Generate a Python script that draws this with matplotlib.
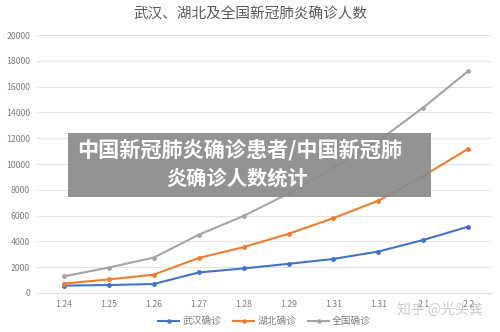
import matplotlib.pyplot as plt
from matplotlib.patches import Rectangle

plt.rcParams['font.family'] = ['Noto Sans CJK SC', 'DejaVu Sans']

dates = ['1.24', '1.25', '1.26', '1.27', '1.28', '1.29', '1.31', '1.31', '2.1', '2.2']
wuhan = [572, 618, 698, 1590, 1905, 2261, 2639, 3215, 4109, 5142]
hubei = [729, 1052, 1423, 2714, 3554, 4586, 5806, 7153, 9074, 11177]
china = [1287, 1975, 2744, 4515, 5974, 7711, 9692, 11791, 14380, 17205]
yticks = [0, 2000, 4000, 6000, 8000, 10000, 12000, 14000, 16000, 18000, 20000]

fig = plt.figure(figsize=(5, 3.32), dpi=100)
ax = fig.add_axes([0.074, 0.1175, 0.91, 0.777])

x = range(len(dates))
ax.plot(x, wuhan, color='#4472C4', lw=1.5, marker='o', ms=2.5, label='武汉确诊')
ax.plot(x, hubei, color='#ED7D31', lw=1.5, marker='o', ms=2.5, label='湖北确诊')
ax.plot(x, china, color='#A5A5A5', lw=1.5, marker='o', ms=2.5, label='全国确诊')

ax.set_xlim(-0.6, 9.53)
ax.set_ylim(0, 20000)
ax.set_yticks(yticks)
ax.set_xticks(list(x))
ax.set_xticklabels(dates)
ax.grid(axis='y', color='#e3e3e3', lw=0.8)
ax.set_axisbelow(True)
for s in ax.spines.values():
    s.set_visible(False)
ax.spines['bottom'].set_visible(True)
ax.spines['bottom'].set_color('#e3e3e3')
ax.tick_params(length=0, labelsize=6.3, colors='#7f7f7f', pad=5)

fig.text(0.5, 0.955, '武汉、湖北及全国新冠肺炎确诊人数', ha='center', va='center',
         fontsize=10.5, color='#595959')

ax.legend(loc='center', bbox_to_anchor=(0.5, -0.11), ncol=3, frameon=False,
          fontsize=7, labelcolor='#7f7f7f', handlelength=2.2, columnspacing=1.2,
          handletextpad=0.3, markerscale=0.9)

fig.patches.append(Rectangle((0.136, 0.4066), 0.726, 0.1928, transform=fig.transFigure,
                             facecolor='#8a8a8a', alpha=0.92, edgecolor='none', zorder=5))
fig.text(0.48, 0.55, '中国新冠肺炎确诊患者/中国新冠肺', ha='center', va='center',
         fontsize=15.2, fontweight='bold', color='white', zorder=6)
fig.text(0.475, 0.465, '炎确诊人数统计', ha='center', va='center',
         fontsize=14.6, fontweight='bold', color='white', zorder=6)

fig.text(0.88, 0.068, '知乎 @光头龚', ha='center', va='center', fontsize=10,
         color='#c4c4c4', alpha=0.9, zorder=6)

fig.savefig('out.png', dpi=100)
